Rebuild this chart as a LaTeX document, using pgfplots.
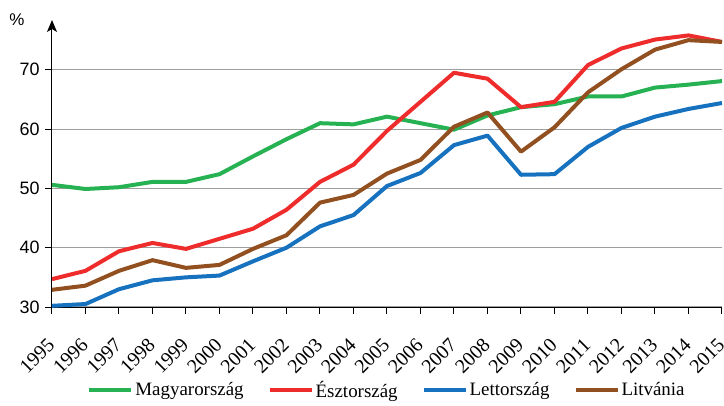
\documentclass[border=0pt]{standalone}
\usepackage{pgfplots}
\usepackage{pgfplotstable}
\pgfplotsset{compat=1.18}
\usetikzlibrary{arrows.meta}
\usepackage{fontspec}
\setmainfont{Liberation Serif}
\newfontfamily\sansf{Liberation Sans}

\definecolor{hu}{RGB}{38,178,82}
\definecolor{ee}{RGB}{238,44,44}
\definecolor{lv}{RGB}{22,114,190}
\definecolor{lt}{RGB}{146,80,32}

% foglalkoztatasi rata, %
\pgfplotstableread{
year hu   ee   lv   lt
1995 50.6 34.7 30.2 32.9
1996 49.9 36.1 30.5 33.6
1997 50.2 39.4 33.0 36.1
1998 51.1 40.8 34.5 37.9
1999 51.1 39.8 35.0 36.6
2000 52.4 41.5 35.3 37.1
2001 55.4 43.2 37.7 39.8
2002 58.3 46.4 40.0 42.1
2003 61.0 51.1 43.6 47.6
2004 60.8 54.0 45.5 48.9
2005 62.1 59.7 50.4 52.5
2006 61.0 64.6 52.6 54.8
2007 59.9 69.5 57.3 60.4
2008 62.3 68.5 58.9 62.8
2009 63.7 63.7 52.3 56.2
2010 64.2 64.6 52.4 60.3
2011 65.5 70.8 57.0 66.2
2012 65.5 73.6 60.2 70.1
2013 67.0 75.1 62.1 73.4
2014 67.5 75.8 63.4 75.0
2015 68.1 74.7 64.4 74.7
}\rates

\begin{document}
\begin{tikzpicture}
\begin{axis}[
    scale only axis,
    width=670bp, height=287bp,
    xmin=1995, xmax=2015,
    ymin=30, ymax=78.4,
    axis x line=bottom, axis y line=left,
    x axis line style={-, line width=1bp},
    y axis line style={-{Stealth[length=12bp,width=10bp,inset=3bp]}, line width=1bp},
    xtick={1995,...,2015},
    ytick={30,40,50,60,70},
    ymajorgrids,
    grid style={gray!75, line width=1.2bp},
    tick style={black, line width=1bp},
    major tick length=7bp,
    tick align=outside,
    /pgf/number format/set thousands separator={},
    /pgf/number format/assume math mode=true,
    xticklabel shift=27bp,
    xticklabel style={rotate=45, anchor=east, inner sep=1bp,
        font=\fontsize{20}{20}\selectfont},
    yticklabel style={font=\sansf\fontsize{18}{18}\selectfont, xshift=-2bp},
    legend columns=4,
    legend style={at={(axis description cs:0.5,-0.289)}, anchor=center,
        draw=none, font=\fontsize{19}{19}\selectfont,
        /tikz/every even column/.append style={column sep=22bp}},
    legend image code/.code={\draw[#1, line width=4bp] (0bp,0bp) -- (42bp,0bp);},
    every axis plot/.append style={line width=4bp, line join=round},
]
\addplot[hu] table[x=year, y=hu] {\rates};
\addlegendentry{Magyarország}
\addplot[ee] table[x=year, y=ee] {\rates};
\addlegendentry{Észtország}
\addplot[lv] table[x=year, y=lv] {\rates};
\addlegendentry{Lettország}
\addplot[lt] table[x=year, y=lt] {\rates};
\addlegendentry{Litvánia}
\end{axis}
\node[font=\sansf\fontsize{17}{17}\selectfont] at ([xshift=-35bp]current axis.north west) {\%};
\pgfresetboundingbox
\path[use as bounding box] ([shift={(-52bp,-99bp)}]current axis.south west) rectangle ++(724bp,406bp);
\end{tikzpicture}
\end{document}
